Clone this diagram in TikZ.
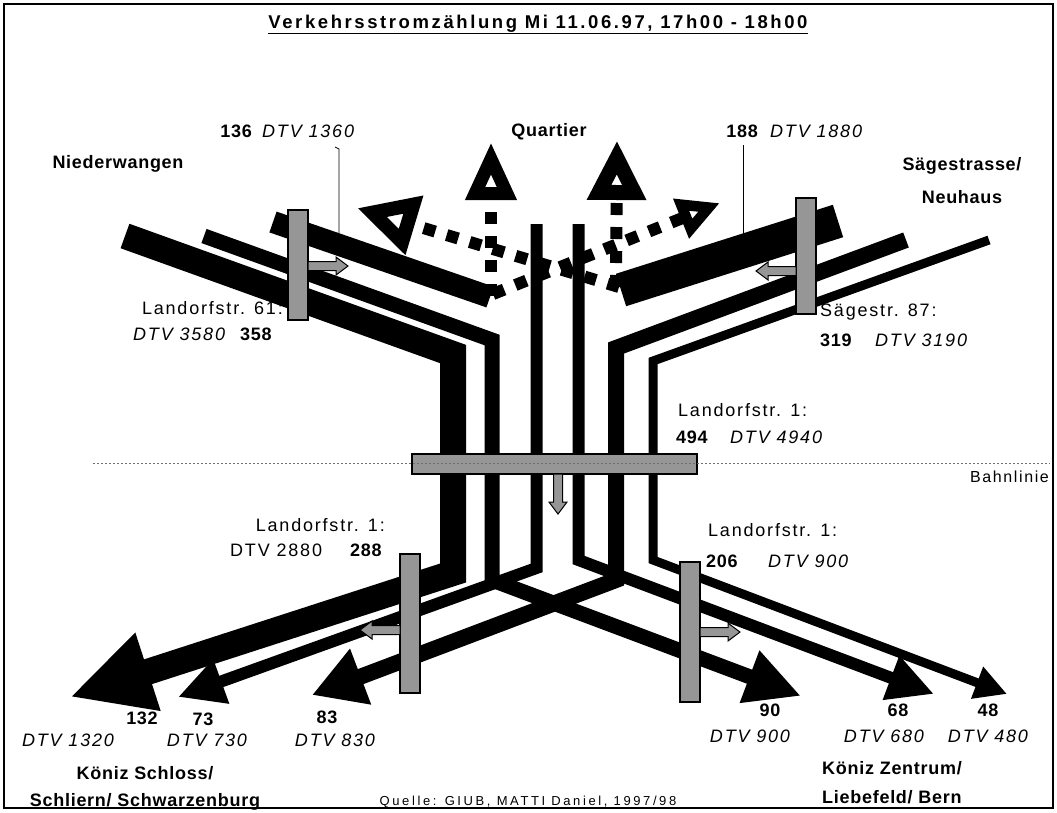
\documentclass[tikz,border=0pt]{standalone}
\usepackage{fontspec}
\setmainfont{Liberation Sans}[LetterSpace=10, BoldFeatures={LetterSpace=4}]
\newfontfamily\titlefont{Liberation Sans}[LetterSpace=14]
\newfontfamily\quellefont{Liberation Sans}[LetterSpace=20]
\usetikzlibrary{arrows.meta}

\definecolor{bargray}{RGB}{150,150,150}
\definecolor{railgray}{RGB}{110,110,110}

\begin{document}
\begin{tikzpicture}[x=1pt, y=-1pt,
  flow/.style={line width=#1, line join=miter},
  qflow/.style={line width=12pt, dash pattern=on 12pt off 12pt},
  cbar/.style={draw, line width=1.2pt, fill=bargray},
  lead/.style={line width=0.8pt},
  place/.style={font=\fontsize{18}{27}\selectfont\bfseries, inner sep=0pt, align=center},
  cnt/.style={font=\fontsize{18}{21}\selectfont\bfseries, inner sep=0pt},
  dtv/.style={font=\fontsize{18}{21}\selectfont\itshape, inner sep=0pt},
  site/.style={font=\fontsize{18}{21}\selectfont, inner sep=0pt},
  cntarrow/.pic={\draw[fill=bargray, line width=1pt, line join=miter] (0,-4.5) -- (28,-4.5) -- (28,-9) -- (40,0) -- (28,9) -- (28,4.5) -- (0,4.5) -- cycle;}
]
  \useasboundingbox (0,0) rectangle (1057,812);
  \draw[line width=2pt] (4,4) rectangle (1053,808);

  \node[font=\fontsize{18.5}{22}\titlefont\bfseries, inner sep=0pt, anchor=base] (title) at (538,28)
    {\underline{Verkehrsstromzählung Mi 11.06.97, 17h00 - 18h00}};

  % Stroeme nach Sueden
  \draw[flow=26pt, -{Triangle[length=82pt, width=76pt]}] (125,236) -- (453,354) -- (453,573) -- (70,697);
  \draw[flow=15pt, -{Triangle[length=55pt, width=52pt]}] (204,236) -- (492,340) -- (492,580) -- (801,696);
  \draw[flow=12pt, -{Triangle[length=46pt, width=44pt]}] (536.5,224) -- (536.5,568) -- (178,697);
  \draw[flow=12pt, -{Triangle[length=46pt, width=44pt]}] (578.5,224) -- (578.5,560) -- (934,694);
  \draw[flow=16pt, -{Triangle[length=52pt, width=56pt]}] (906,240) -- (616,348) -- (616,580) -- (312,695);
  \draw[flow=9pt, -{Triangle[length=32pt, width=32pt]}] (989,240) -- (653,361) -- (653,560) -- (1007,694);

  % Stroeme ins Quartier
  \draw[flow=22pt] (273,222) -- (490,297);
  \draw[flow=34pt] (838,221) -- (621,290);
  \draw[qflow, -{Triangle[open, length=58pt, width=48pt, line width=13pt]}] (491,296) -- (491,142);
  \draw[qflow, -{Triangle[open, length=42pt, width=40pt, line width=12pt]}] (493,294) -- (720,203);
  \draw[qflow, -{Triangle[open, length=60pt, width=55pt, line width=16pt]}] (616,287) -- (617,140);
  \draw[qflow, -{Triangle[open, length=60pt, width=58pt, line width=14pt]}] (619,287) -- (357,208);

  % Zaehlstellen
  \draw[cbar] (288,210) rectangle (308,320);
  \pic at (308,266) {cntarrow};
  \draw[cbar] (796,198) rectangle (816,314);
  \pic[rotate=180] at (796,271) {cntarrow};
  \draw[cbar] (412,454) rectangle (697,474);
  \pic[rotate=-90] at (558,474) {cntarrow};
  \draw[cbar] (400,554) rectangle (420,693);
  \pic[rotate=180] at (400,630) {cntarrow};
  \draw[cbar] (680,562) rectangle (700,702);
  \pic at (700,632) {cntarrow};
  \draw[railgray, line width=1pt, dash pattern=on 1.5pt off 2.5pt] (93,463) -- (1050,463);

  % Beschriftung
  \node[cnt, anchor=base east] (n136) at (252,137) {136};
  \node[dtv, anchor=base west] (d1360) at (262,137) {DTV 1360};
  \draw[lead] (335,147) -- (339,149) -- (339,233);
  \node[place, anchor=base] (quart) at (549,136) {Quartier};
  \node[cnt, anchor=base east] (n188) at (758,137) {188};
  \node[dtv, anchor=base west] (d1880) at (770,137) {DTV 1880};
  \draw[lead] (743,145) -- (743,234);
  \node[place, anchor=base] (nieder) at (118,168) {Niederwangen};
  \node[place] (saege) at (962,181) {Sägestrasse/\\[6pt]Neuhaus};

  \node[site, anchor=base east] (s61) at (283,314) {Landorfstr. 61:};
  \node[dtv, anchor=base west] (d3580) at (133,340) {DTV 3580};
  \node[cnt, anchor=base west] (n358) at (240,340) {358};
  \node[site, anchor=base west] (s87) at (820,316) {Sägestr. 87:};
  \node[cnt, anchor=base west] (n319) at (820,346) {319};
  \node[dtv, anchor=base west] (d3190) at (875,346) {DTV 3190};

  \node[site, anchor=base west] (s1m) at (678,416) {Landorfstr. 1:};
  \node[cnt, anchor=base west] (n494) at (676,443) {494};
  \node[dtv, anchor=base west] (d4940) at (730,443) {DTV 4940};
  \node[site, font=\fontsize{16}{19}\selectfont, anchor=base west] (bahn) at (970,482) {Bahnlinie};

  \node[site, anchor=base east] (s1l) at (385,531) {Landorfstr. 1:};
  \node[site, anchor=base west] (d2880) at (230,556) {DTV 2880};
  \node[cnt, anchor=base west] (n288) at (350,556) {288};
  \node[site, anchor=base west] (s1r) at (708,536) {Landorfstr. 1:};
  \node[cnt, anchor=base west] (n206) at (706,567) {206};
  \node[dtv, anchor=base west] (d900a) at (768,567) {DTV 900};

  \node[cnt, anchor=base] (n132) at (142,724) {132};
  \node[dtv, anchor=base] (d1320) at (68,746) {DTV 1320};
  \node[cnt, anchor=base] (n73) at (203,725) {73};
  \node[dtv, anchor=base] (d730) at (207,746) {DTV 730};
  \node[cnt, anchor=base] (n83) at (327,723) {83};
  \node[dtv, anchor=base] (d830) at (335,746) {DTV 830};
  \node[cnt, anchor=base] (n90) at (770,716) {90};
  \node[dtv, anchor=base] (d900b) at (750,742) {DTV 900};
  \node[cnt, anchor=base] (n68) at (898,716) {68};
  \node[dtv, anchor=base] (d680) at (884,742) {DTV 680};
  \node[cnt, anchor=base] (n48) at (988,716) {48};
  \node[dtv, anchor=base] (d480) at (988,742) {DTV 480};

  \node[place] (koenizs) at (145,788) {Köniz Schloss/\\Schliern/ Schwarzenburg};
  \node[place, align=left, anchor=west] (koenizz) at (822,783) {Köniz Zentrum/\\[2pt]Liebefeld/ Bern};
  \node[inner sep=0pt, font=\fontsize{13}{15}\quellefont, anchor=base] (quelle) at (528,805) {Quelle: GIUB, MATTI Daniel, 1997/98};
\end{tikzpicture}
\end{document}
